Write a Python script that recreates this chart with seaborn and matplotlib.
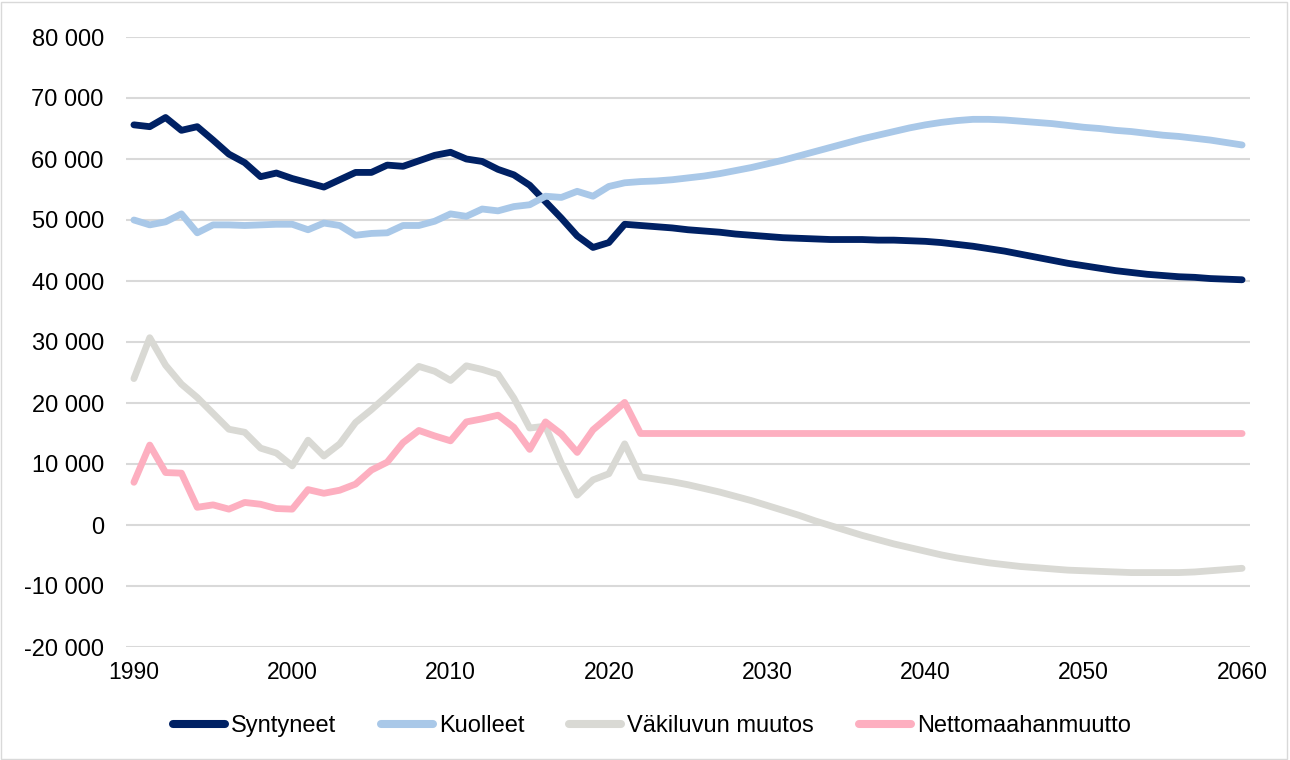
import numpy as np
import pandas as pd
import matplotlib
matplotlib.use("Agg")
import matplotlib.pyplot as plt
from matplotlib.ticker import FuncFormatter
from matplotlib.patches import Rectangle
import seaborn as sns

vuodet = list(range(1990, 2061))

# 1990-2021 toteutunut, 2022-2060 ennuste
syntyneet = [65600, 65300, 66800, 64700, 65300, 63100, 60800, 59400, 57100, 57700,
             56800, 56100, 55400, 56600, 57800, 57800, 59000, 58800, 59700, 60600,
             61100, 60000, 59600, 58300, 57400, 55700, 53000, 50300, 47400, 45500,
             46300, 49300,
             49100, 48900, 48700, 48400, 48200, 48000, 47700, 47500, 47300, 47100,
             47000, 46900, 46800, 46800, 46800, 46700, 46700, 46600, 46500, 46300,
             46000, 45700, 45300, 44900, 44400, 43900, 43400, 42900, 42500, 42100,
             41700, 41400, 41100, 40900, 40700, 40600, 40400, 40300, 40200]
kuolleet = [50000, 49200, 49700, 51000, 47900, 49200, 49200, 49100, 49200, 49300,
            49300, 48400, 49500, 49100, 47500, 47800, 47900, 49100, 49100, 49800,
            51000, 50600, 51800, 51500, 52200, 52500, 53900, 53700, 54700, 53900,
            55500, 56100,
            56300, 56400, 56600, 56900, 57200, 57600, 58100, 58600, 59200, 59800,
            60500, 61200, 61900, 62600, 63300, 63900, 64500, 65100, 65600, 66000,
            66300, 66500, 66500, 66400, 66200, 66000, 65800, 65500, 65200, 65000,
            64700, 64500, 64200, 63900, 63700, 63400, 63100, 62700, 62300]
vakiluvun_muutos = [24000, 30700, 26200, 23100, 20900, 18300, 15700, 15200, 12600, 11800,
                    9700, 13900, 11300, 13300, 16800, 18900, 21200, 23600, 26000, 25200,
                    23700, 26100, 25500, 24700, 20800, 15900, 16200, 10100, 4900, 7400,
                    8400, 13300,
                    7900, 7500, 7100, 6600, 6000, 5400, 4700, 4000, 3200, 2400,
                    1600, 700, -100, -900, -1700, -2400, -3100, -3700, -4300, -4900,
                    -5400, -5800, -6200, -6500, -6800, -7000, -7200, -7400, -7500, -7600,
                    -7700, -7800, -7800, -7800, -7800, -7700, -7500, -7300, -7100]
nettomaahanmuutto = [7000, 13100, 8600, 8500, 2900, 3300, 2600, 3700, 3400, 2700,
                     2600, 5800, 5200, 5700, 6700, 9000, 10300, 13500, 15500, 14600,
                     13800, 16900, 17400, 18000, 16000, 12400, 16900, 14900, 11900, 15600,
                     17800, 20100] + [15000] * 39

sarjat = ["Syntyneet", "Kuolleet", "Väkiluvun muutos", "Nettomaahanmuutto"]
varit = ["#002164", "#A9C8E8", "#D9D9D4", "#FDAFC0"]

df = pd.DataFrame({
    "vuosi": vuodet * 4,
    "arvo": syntyneet + kuolleet + vakiluvun_muutos + nettomaahanmuutto,
    "sarja": [s for s in sarjat for _ in vuodet],
})

sns.set_style("white")
plt.rcParams['font.family'] = ['Liberation Sans', 'DejaVu Sans']

fig = plt.figure(figsize=(12.9, 7.6), dpi=100)
ax = fig.add_axes([126 / 1290, 1 - 647 / 760, (1250 - 126) / 1290, (647 - 37) / 760])

sns.lineplot(data=df, x="vuosi", y="arvo", hue="sarja", hue_order=sarjat,
             palette=varit, linewidth=4.9, ax=ax, legend=False,
             solid_capstyle="round", solid_joinstyle="round")

ax.set_xlim(1989.5, 2060.5)
ax.set_ylim(-20000, 80000)
ax.set_xticks(range(1990, 2061, 10))
ax.set_yticks(range(-20000, 80001, 10000))
ax.yaxis.set_major_formatter(FuncFormatter(lambda v, p: f"{v:,.0f}".replace(",", " ")))
ax.grid(axis="y", color="#D9D9D9", linewidth=1.5)
ax.set_axisbelow(True)
for s in ax.spines.values():
    s.set_visible(False)
ax.tick_params(axis="y", length=0, pad=16, labelsize=17, colors="black")
ax.tick_params(axis="x", length=0, pad=10, labelsize=16.5, colors="black")
ax.set_xlabel("")
ax.set_ylabel("")

kahvat = [plt.Line2D([0], [0], color=c, linewidth=5.8, solid_capstyle="round") for c in varit]
fig.legend(kahvat, sarjat, loc="center", bbox_to_anchor=(652 / 1290, 1 - 726 / 760), ncol=4,
           frameon=False, fontsize=17, handlelength=2.2, handletextpad=0.25,
           columnspacing=1.9, labelcolor="black")

fig.patches.append(Rectangle((0.001, 0.001), 0.997, 0.997, transform=fig.transFigure,
                             fill=False, edgecolor="#D9D9D9", linewidth=1))

fig.savefig("out.png", dpi=100)
